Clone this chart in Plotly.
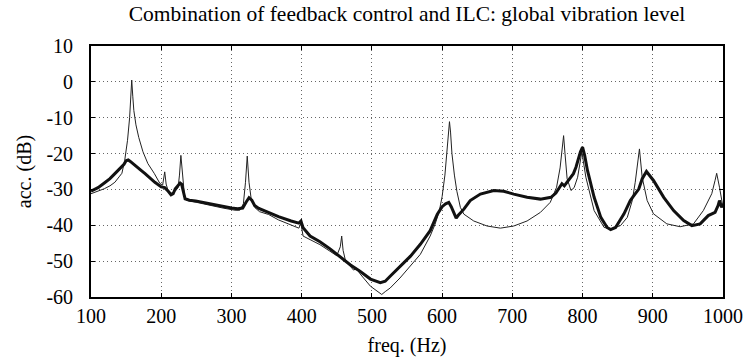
import plotly.graph_objects as go

# Open-loop (thin) response
freq_thin = [100, 110, 119, 127, 134, 140, 144, 148, 152, 155, 157, 158, 159.5, 161, 164, 168, 174, 181, 190, 198,
             202, 205, 207, 210, 215, 220, 224, 226, 228, 230, 233, 236, 249, 269, 288, 305, 312, 317, 320, 322.5,
             325, 328, 333, 340, 353, 367, 385, 396, 399, 402, 412, 426, 440, 450, 455, 457, 459, 462, 469, 474,
             478, 483, 498, 505, 512, 514, 519, 526, 540, 555, 569, 583, 590, 596, 600, 604, 607, 609, 610.5, 612,
             614, 617.5, 621, 626, 631, 645, 664, 683, 702, 721, 740, 754, 763, 768, 771, 773, 775, 778, 783.5, 788,
             793, 797, 799, 801, 804.7, 816.5, 830.7, 840, 854, 863.7, 870.8, 875, 877.8, 881, 884.9, 892, 901, 920,
             939, 958, 972, 984, 988.7, 991, 995, 998, 1000]
db_thin = [-31.2, -30.5, -29.8, -29, -28, -26.5, -25.5, -21.9, -16.3, -10, -3, 0.5, -4, -8, -12, -15.5, -19.5, -22.8, -25.5, -28.3,
           -28.8, -25.1, -28.5, -30.5, -31, -30.5, -29.5, -26, -20.5, -26, -31.5, -33, -33.6, -34.5, -35.2, -35.8, -35.8, -34, -28, -20.7,
           -28, -32.5, -35, -36.2, -37, -38.5, -40, -40.8, -39.5, -43, -44, -45.4, -47.2, -48.5, -46, -43, -47, -49.5, -51.4, -52.5,
           -52, -53.5, -57, -58, -58.9, -59.3, -58.5, -57.5, -54.7, -51.4, -48.1, -43, -39.7, -36, -32, -26, -19, -14, -11.1, -14,
           -20, -26, -30.5, -35, -36.9, -38.8, -40.2, -40.8, -40.2, -38.8, -36.4, -33.6, -29.4, -24, -19, -15, -20, -27, -30.3, -29.5,
           -26.6, -21, -19.5, -22, -26.6, -35.9, -40.6, -41, -40.1, -37.8, -33.1, -28, -23.8, -18.7, -26.6, -33.1, -36.8, -39.6,
           -40.4, -39.6, -35.9, -31.2, -27.5, -25.5, -29.4, -33, -35]

# Feedback control + ILC (thick) response
freq_thick = [100, 110, 119, 127, 134, 141, 147, 150, 153, 156, 162, 170, 177, 185, 191, 200, 205, 210, 214, 217,
              220, 224, 227, 229, 231, 234, 240, 249, 269, 288, 300, 309, 316, 321, 325, 329, 333, 339, 353, 367,
              385, 396, 399, 402, 412, 426, 440, 455, 460, 469, 483, 498, 512, 519, 526, 540, 555, 569, 583, 593,
              600, 605, 609.5, 613, 617, 620, 623, 631, 640, 654.5, 673.5, 687.7, 702, 721, 740, 755, 762, 768, 770.6, 774,
              777.7, 783.5, 787, 790.6, 794, 797, 800, 803, 807, 816.5, 826, 835, 840, 847, 859, 868, 872, 876, 880, 885,
              891, 901, 915.6, 929.7, 944, 955.7, 967.5, 979, 988.7, 993, 995, 998, 1000]
db_thick = [-30.5, -29.5, -28.2, -27, -25.6, -24.3, -23, -22, -21.8, -22.2, -23.3, -24.5, -25.6, -27, -28, -29.3, -29.5, -30.5, -31.5, -31.2,
            -29.8, -28.9, -28.2, -28.5, -30.5, -32.6, -33, -33.2, -34, -34.8, -35.2, -35.4, -35.2, -33.5, -32.3, -33, -34.5, -35.3, -36.5, -37.6,
            -38.8, -39.4, -38.8, -40.7, -43, -44.6, -46.5, -48.8, -49.8, -51, -52.8, -55, -56, -55.6, -54.2, -51.4, -48.6, -45.3, -41.5, -37,
            -34.8, -34, -33.6, -34.8, -36.8, -38, -37.2, -35.5, -33.1, -31.3, -30.3, -30.5, -31.3, -32.2, -32.7, -32.2, -31, -28.9, -28.4, -29,
            -28, -26.5, -25.6, -23.8, -21.5, -19.5, -18.2, -20.5, -24.7, -32.2, -37.8, -40.6, -41.2, -40.6, -36.8, -33.1, -32, -31, -29.9, -27,
            -25, -27.5, -32.2, -35.9, -38.7, -40.1, -39.6, -37.3, -36.4, -34.5, -33.1, -35, -34]

x_ticks = [100, 200, 300, 400, 500, 600, 700, 800, 900, 1000]
y_ticks = [-60, -50, -40, -30, -20, -10, 0, 10]

FONT = "Liberation Serif"
FS = 20

fig = go.Figure()
fig.add_trace(go.Scatter(x=freq_thin, y=db_thin, mode="lines",
                         line=dict(color="#222222", width=1), showlegend=False))
fig.add_trace(go.Scatter(x=freq_thick, y=db_thick, mode="lines",
                         line=dict(color="#111111", width=3), showlegend=False))

axis_common = dict(showline=True, linecolor="black", linewidth=1.8, mirror="ticks",
                   ticks="inside", ticklen=4, tickcolor="black", automargin=False,
                   showgrid=True, gridcolor="#666666", griddash="1px,3px", gridwidth=1,
                   zeroline=False, tickfont=dict(family=FONT, size=FS, color="black"))

fig.update_xaxes(range=[100, 1000], tickvals=x_ticks, ticktext=[str(v) for v in x_ticks],
                 ticklabelstandoff=0, ticklabeloverflow="allow",
                 title=dict(text="freq. (Hz)", font=dict(family=FONT, size=FS, color="black"), standoff=12),
                 **axis_common)
fig.update_yaxes(range=[-60, 10], tickvals=y_ticks, ticktext=[str(v) for v in y_ticks],
                 ticklabelstandoff=12,
                 title=dict(text="acc. (dB)", font=dict(family=FONT, size=FS, color="black"), standoff=9),
                 **axis_common)

fig.update_layout(
    width=745, height=364,
    margin=dict(l=91, r=22, t=46, b=67),
    paper_bgcolor="white", plot_bgcolor="white",
    font=dict(family=FONT, size=FS, color="black"),
    title=dict(text="Combination of feedback control and ILC: global vibration level",
               font=dict(family=FONT, size=21.5, color="black"),
               x=0.5, xref="paper", xanchor="center", y=1 - 13 / 364, yref="container", yanchor="middle"),
)

fig.write_html("out.html")
